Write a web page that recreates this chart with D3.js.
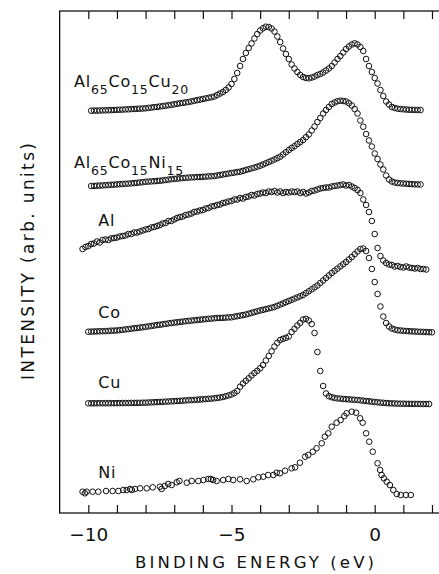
<!DOCTYPE html>
<html>
<head>
<meta charset="utf-8">
<script src="https://cdn.jsdelivr.net/npm/d3@7"></script>
<style>
  body { margin: 0; background: #fff; }
  svg { display: block; }
</style>
</head>
<body>
<div class="canvas"></div>
<script>
// spectra: first energy (eV) + intensity (arb. units, already stacked) every 0.1 eV
const step = 0.1

const cu20Start = -9.9
const cu20Vals = [
  402.3, 402.4, 402.4, 402.5, 402.6, 402.7, 402.8, 402.9, 403.0, 403.2,
  403.3, 403.4, 403.6, 403.7, 403.9, 404.0, 404.2, 404.3, 404.5, 404.7,
  405.1, 405.4, 405.8, 406.1, 406.5, 406.9, 407.3, 407.8, 408.2, 408.7,
  409.2, 409.7, 410.1, 410.6, 411.0, 411.6, 412.2, 412.8, 413.4, 414.0,
  414.6, 415.2, 415.8, 416.5, 418.0, 419.5, 421.0, 423.0, 425.5, 429.0,
  434.0, 440.0, 447.0, 454.0, 460.0, 465.0, 469.5, 474.5, 479.0, 482.5,
  484.7, 486.3, 486.0, 484.5, 481.5, 476.5, 471.0, 464.5, 459.0, 454.0,
  448.5, 444.5, 441.0, 438.0, 436.0, 435.0, 434.7, 435.5, 436.5, 438.0,
  439.0, 440.5, 442.5, 444.5, 447.0, 450.5, 454.0, 457.0, 460.5, 464.0,
  466.5, 468.5, 469.7, 468.5, 466.0, 462.0, 454.0, 447.0, 441.0, 435.0,
  429.5, 423.0, 417.0, 411.5, 408.5, 406.0, 405.0, 404.3, 404.0, 403.7,
  403.5, 403.3, 403.2, 403.1, 403.0, 403.0
]

const ni15Start = -9.9
const ni15Vals = [
  327.0, 327.1, 327.3, 327.4, 327.6, 327.8, 328.0, 328.2, 328.4, 328.6,
  328.8, 329.0, 329.2, 329.4, 329.6, 329.9, 330.2, 330.5, 330.8, 331.2,
  331.4, 331.6, 331.8, 332.0, 332.3, 332.6, 333.0, 333.4, 333.8, 334.1,
  334.4, 334.7, 334.9, 335.2, 335.4, 335.6, 335.7, 335.9, 336.0, 336.2,
  336.4, 336.6, 336.8, 337.0, 337.5, 338.0, 338.5, 339.0, 339.5, 340.0,
  340.4, 340.9, 341.3, 342.1, 343.0, 343.8, 344.6, 345.4, 346.3, 347.3,
  348.5, 349.7, 351.0, 352.2, 353.5, 354.9, 356.3, 358.5, 360.8, 363.0,
  365.0, 366.8, 369.0, 371.0, 373.0, 375.8, 378.5, 382.5, 386.5, 391.0,
  395.0, 399.5, 403.0, 406.0, 409.0, 410.5, 411.8, 412.3, 412.0, 411.5,
  409.8, 407.5, 404.0, 399.5, 392.5, 386.3, 379.0, 372.5, 366.5, 359.5,
  354.0, 348.5, 343.5, 337.5, 333.5, 331.5, 330.5, 330.0, 329.7, 329.5,
  329.3, 329.1, 328.9, 328.7, 328.6, 328.5
]

const alStart = -10.2
const alVals = [
  264, 266, 267, 269, 269.5, 271.5, 270.5, 273, 273.5, 273,
  274.5, 275, 275.5, 276.5, 277, 277.5, 279, 279, 280.5, 280.5,
  281.5, 282.5, 283.5, 284, 285.5, 286, 287, 288, 289.5, 290,
  292, 292, 293.5, 295, 296, 296.5, 298, 298.5, 299.5, 301,
  301.5, 302.5, 303, 304.5, 305, 306.5, 307, 308, 308.5, 310,
  310.5, 311.5, 312, 313.5, 313.5, 315, 314.5, 316, 316.5, 318,
  317.5, 319, 319.5, 320.5, 320, 321.5, 321, 322, 320.5, 321.5,
  320, 321, 320.5, 321.5, 321, 321.5, 320, 321, 319.5, 320.5,
  322, 322.5, 323.5, 324.5, 325, 325.5, 325.5, 326.5, 327, 327.5,
  328, 328.5, 327.5, 328, 326.5, 325, 323, 320, 313.5, 308,
  301, 292, 279, 265, 257, 252.5, 250, 248.5, 248, 246.5,
  247, 246, 245.5, 246.5, 245.5, 245, 244.5, 245, 244, 244,
  243.5
]

const coStart = -10.0
const coVals = [
  181.3, 181.4, 181.5, 181.6, 181.7, 181.8, 181.9, 182.1, 182.3, 182.4,
  182.5, 182.9, 183.2, 183.6, 183.9, 184.3, 184.7, 185.0, 185.4, 185.8,
  186.2, 186.6, 187.0, 187.5, 187.9, 188.3, 188.7, 189.1, 189.6, 190.0,
  190.4, 190.7, 191.1, 191.4, 191.8, 192.1, 192.4, 192.7, 193.0, 193.3,
  193.6, 193.9, 194.2, 194.4, 194.7, 195.0, 195.1, 195.2, 195.4, 195.6,
  195.7, 196.3, 196.8, 197.4, 197.9, 198.5, 199.3, 200.1, 200.9, 201.7,
  202.5, 203.2, 203.9, 204.6, 205.3, 206.0, 207.2, 208.4, 209.6, 210.8,
  212.0, 213.2, 214.4, 215.6, 216.8, 218.0, 219.9, 221.8, 223.7, 225.6,
  227.5, 230.0, 232.5, 235.0, 237.5, 240.0, 242.2, 244.4, 246.6, 248.8,
  251.0, 253.5, 256.0, 258.8, 261.5, 264.0, 264.5, 262.0, 255.0, 244.0,
  231.0, 219.0, 206.5, 196.5, 190.0, 186.5, 184.5, 183.5, 182.8, 182.5,
  182.2, 182.0, 181.8, 181.6, 181.5, 181.3, 181.2, 181.1, 181.0, 180.8,
  180.7
]

const cuStart = -10.0
const cuVals = [
  109.7, 109.7, 109.7, 109.7, 109.8, 109.8, 109.8, 109.8, 109.8, 109.8,
  109.8, 109.9, 109.9, 110.0, 110.0, 110.1, 110.1, 110.2, 110.2, 110.3,
  110.3, 110.5, 110.6, 110.8, 110.9, 111.1, 111.2, 111.4, 111.5, 111.7,
  111.8, 112.0, 112.2, 112.4, 112.6, 112.8, 112.9, 113.1, 113.3, 113.5,
  113.7, 113.9, 114.2, 114.4, 114.7, 115.1, 115.5, 116.0, 116.8, 117.6,
  118.5, 120.0, 122.0, 126.3, 129.5, 132.2, 134.7, 137.5, 140.0, 142.2,
  144.7, 148.0, 152.5, 157.0, 161.7, 166.5, 170.2, 173.0, 174.2, 175.2,
  176.5, 181.0, 184.2, 187.5, 190.2, 193.5, 194.2, 192.5, 189.0, 180.0,
  161.0, 142.0, 127.0, 119.5, 116.8, 115.8, 115.0, 114.6, 114.4, 114.0,
  113.8, 113.6, 113.4, 113.2, 113.0, 112.7, 112.3, 112.0, 111.7, 111.3,
  111.0, 110.7, 110.4, 110.2, 109.9, 109.7, 109.6, 109.5, 109.4, 109.3,
  109.3, 109.2, 109.2, 109.1, 109.1, 109.1, 109.0, 109.0, 109.0, 109.0
]

// Ni is sampled irregularly, so it keeps its own energies
const niE = [
  -10.20, -10.12, -10.06, -9.85, -9.65, -9.38, -9.15, -8.95, -8.78, -8.66,
  -8.54, -8.48, -8.37, -8.19, -7.96, -7.75, -7.50, -7.44, -7.33, -7.21,
  -7.09, -6.91, -6.82, -6.56, -6.39, -6.16, -5.98, -5.81, -5.72, -5.64,
  -5.52, -5.29, -5.11, -4.94, -4.70, -4.47, -4.24, -4.06, -3.89, -3.72,
  -3.54, -3.42, -3.31, -3.13, -2.90, -2.78, -2.61, -2.43, -2.32, -2.16,
  -2.03, -1.85, -1.74, -1.62, -1.50, -1.33, -1.19, -1.06, -0.98, -0.80,
  -0.65, -0.51, -0.42, -0.30, -0.19, -0.07, 0.10, 0.19, 0.24, 0.32,
  0.42, 0.53, 0.65, 0.77, 0.91, 1.09, 1.26
]
const niVals = [
  21.3, 19.7, 21.3, 21.3, 21.3, 22, 22, 22, 23, 23,
  24, 23, 24, 24.7, 24.7, 25.7, 26.3, 24, 27, 29,
  28, 30.7, 32, 30.3, 32, 32, 33, 34, 34, 33,
  32, 33, 34, 33, 33.7, 32, 33.7, 35.7, 36.3, 38,
  38, 40.3, 39.7, 42.3, 44.7, 45.7, 50.3, 56.3, 58, 61.3,
  64.7, 69.7, 76.3, 79.7, 86.3, 90.3, 93, 97, 99.7, 101.3,
  100.3, 94.7, 90.3, 79.7, 71.3, 61.3, 49.7, 43, 38, 34.7,
  31.3, 28, 23, 19, 18, 18, 18
]

// curve names, split into [text, subscript?] pieces
const names = [
  [['Al', 0], ['65', 1], ['Co', 0], ['15', 1], ['Cu', 0], ['20', 1]],
  [['Al', 0], ['65', 1], ['Co', 0], ['15', 1], ['Ni', 0], ['15', 1]],
  [['Al', 0]],
  [['Co', 0]],
  [['Cu', 0]],
  [['Ni', 0]]
]

const tickE = [-10, -9, -8, -7, -6, -5, -4, -3, -2, -1, 0, 1, 2]
const labelledE = [-10, -5, 0]

const regular = (start, vals) => vals.map((v, i) => ({ e: start + i * step, v }))
const spectra = [
  regular(cu20Start, cu20Vals),
  regular(ni15Start, ni15Vals),
  regular(alStart, alVals),
  regular(coStart, coVals),
  regular(cuStart, cuVals),
  niE.map((e, i) => ({ e, v: niVals[i] }))
]

// where the names sit, in data units
const namePos = [
  { e: -10.5, v: 425.7 },
  { e: -10.5, v: 345 },
  { e: -9.65, v: 287 },
  { e: -9.65, v: 195 },
  { e: -9.65, v: 125 },
  { e: -9.65, v: 35 }
]

const font = 'DejaVu Sans, sans-serif'

const svg = d3.select('.canvas')
  .append('svg')
  .attr('width', 439)
  .attr('height', 574)

const x = d3.scaleLinear().domain([-10, 0]).range([88.3, 374.7])
const y = d3.scaleLinear().domain([0, 502]).range([513, 11])

const frame = { left: x(-11), right: x(2.6), top: y(502), bottom: y(0) }

svg.append('rect')
  .attr('x', frame.left)
  .attr('y', frame.top)
  .attr('width', frame.right - frame.left)
  .attr('height', frame.bottom - frame.top)
  .attr('fill', 'none')
  .attr('stroke', '#111')
  .attr('stroke-width', 1.3)

// bottom axis, ticks pointing in
svg.append('g')
  .attr('transform', `translate(0, ${frame.bottom})`)
  .call(d3.axisBottom(x)
    .tickValues(tickE)
    .tickSizeInner(-8)
    .tickSizeOuter(0)
    .tickPadding(14.5)
    .tickFormat(d => labelledE.includes(d) ? d3.format('d')(d) : ''))
  .call(g => g.select('.domain').remove())
  .call(g => g.selectAll('line').attr('stroke', '#111').attr('stroke-width', 1.2))
  .call(g => g.selectAll('text')
    .attr('font-family', font)
    .attr('font-size', 18.5)
    .attr('fill', '#111'))

// top axis, no labels
svg.append('g')
  .attr('transform', `translate(0, ${frame.top})`)
  .call(d3.axisTop(x)
    .tickValues(tickE)
    .tickSizeInner(-8)
    .tickSizeOuter(0)
    .tickFormat(''))
  .call(g => g.select('.domain').remove())
  .call(g => g.selectAll('line').attr('stroke', '#111').attr('stroke-width', 1.2))

// data points
const curves = svg.append('g')
spectra.forEach(pts => {
  curves.append('g')
    .selectAll('circle')
    .data(pts)
    .enter()
    .append('circle')
    .attr('cx', d => x(d.e))
    .attr('cy', d => y(d.v))
    .attr('r', 2.8)
    .attr('fill', 'none')
    .attr('stroke', '#111')
    .attr('stroke-width', 1)
})

// curve names with subscripts
names.forEach((parts, i) => {
  const t = svg.append('text')
    .attr('x', x(namePos[i].e))
    .attr('y', y(namePos[i].v))
    .attr('font-family', font)
    .attr('font-size', 16)
    .attr('letter-spacing', 0.8)
    .attr('fill', '#111')
  let down = 0
  parts.forEach(([txt, sub]) => {
    const shift = sub ? 6.5 : 0
    t.append('tspan')
      .attr('dy', shift - down)
      .attr('font-size', sub ? 12.5 : 16)
      .text(txt)
    down = shift
  })
})

// axis titles
svg.append('text')
  .attr('x', 254.5)
  .attr('y', 568)
  .attr('text-anchor', 'middle')
  .attr('font-family', font)
  .attr('font-size', 16.5)
  .attr('textLength', 239)
  .attr('lengthAdjust', 'spacing')
  .attr('fill', '#111')
  .text('BINDING ENERGY (eV)')

svg.append('text')
  .attr('transform', 'translate(33.5, 261.5) rotate(-90)')
  .attr('text-anchor', 'middle')
  .attr('font-family', font)
  .attr('font-size', 17)
  .attr('textLength', 237)
  .attr('lengthAdjust', 'spacing')
  .attr('fill', '#111')
  .text('INTENSITY (arb. units)')
</script>
</body>
</html>
